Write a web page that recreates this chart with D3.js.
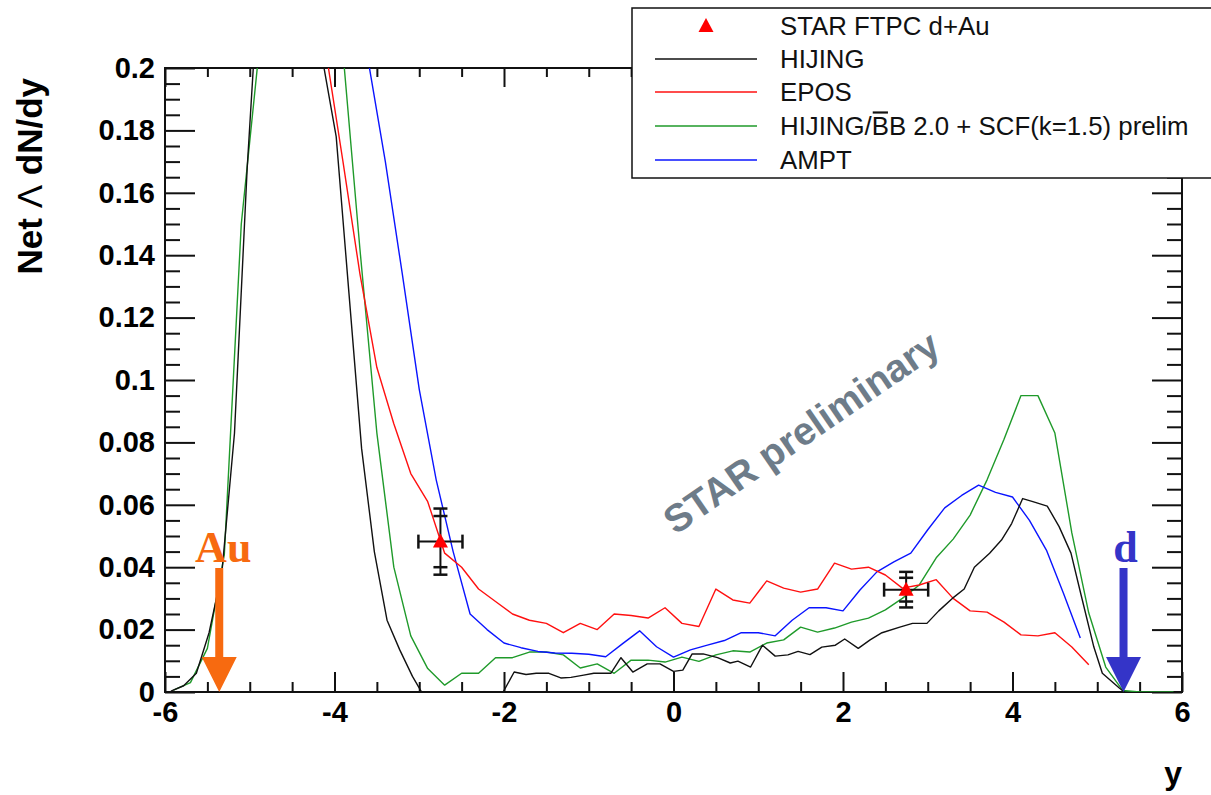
<!DOCTYPE html>
<html>
<head>
<meta charset="utf-8">
<script src="https://cdn.jsdelivr.net/npm/d3@7"></script>
<style>
  body { margin: 0; background: #fff; }
  svg { display: block; }
</style>
</head>
<body>
<svg id="chart" width="1211" height="795"></svg>
<script>
// ---------------- data ----------------
// Tick marks and labels
const xMajor = [-6, -4, -2, 0, 2, 4, 6];
const xMajorLabels = ["-6", "-4", "-2", "0", "2", "4", "6"];
const yMajor = [0, 0.02, 0.04, 0.06, 0.08, 0.1, 0.12, 0.14, 0.16, 0.18, 0.2];
const yMajorLabels = ["0", "0.02", "0.04", "0.06", "0.08", "0.1", "0.12", "0.14", "0.16", "0.18", "0.2"];

// HIJING (black)
const hijingY = [-5.93,-5.78,-5.63,-5.48,-5.33,-5.18,-5.03,-4.88,-4.73,-4.58,
  -4.43,-4.28,-4.13,-3.98,-3.83,-3.68,-3.53,-3.38,-3.23,-3.08,
  -2.93,-2.78,-2.63,-2.48,-2.33,-2.18,-2.03,-1.88,-1.74,-1.62,
  -1.47,-1.33,-1.21,-1.06,-0.94,-0.84,-0.74,-0.62,-0.48,-0.31,
  -0.16,0.0,0.11,0.22,0.35,0.52,0.67,0.76,0.91,1.05,
  1.2,1.35,1.47,1.61,1.75,1.91,2.02,2.18,2.32,2.46,
  2.67,2.82,2.99,3.13,3.29,3.43,3.55,3.73,3.87,3.99,
  4.12,4.24,4.41,4.55,4.69,4.81,4.96,5.06,5.26,5.32];
const hijingDN = [0.0003,0.002,0.006,0.019,0.038,0.083,0.168,0.235,0.29,0.32,
  0.31,0.26,0.201,0.178,0.128,0.078,0.045,0.023,0.0135,0.005,
  -0.002,-0.005,-0.005,-0.003,0.0,0.0,-0.001,0.0064,0.0056,0.006,
  0.006,0.0045,0.0047,0.0054,0.006,0.006,0.006,0.011,0.0064,0.009,
  0.009,0.0066,0.007,0.0122,0.0122,0.011,0.0093,0.0099,0.008,0.015,
  0.0115,0.0119,0.013,0.012,0.0144,0.015,0.017,0.014,0.0167,0.019,
  0.0208,0.022,0.022,0.026,0.030,0.033,0.040,0.0445,0.0487,0.054,
  0.062,0.061,0.0596,0.053,0.0445,0.031,0.0144,0.006,0.0013,0.0];

// EPOS (red)
const eposY = [-4.3,-4.1,-3.9,-3.7,-3.5,-3.3,-3.1,-2.9,-2.7,-2.5,
  -2.3,-2.1,-1.9,-1.7,-1.5,-1.3,-1.1,-0.9,-0.7,-0.5,
  -0.3,-0.1,0.1,0.3,0.5,0.7,0.9,1.1,1.3,1.5,
  1.7,1.9,2.1,2.3,2.5,2.7,2.9,3.1,3.3,3.5,
  3.7,3.9,4.1,4.3,4.5,4.7,4.9];
const eposDN = [0.26,0.205,0.170,0.134,0.104,0.086,0.070,0.061,0.0445,0.040,
  0.033,0.029,0.025,0.023,0.022,0.019,0.022,0.020,0.025,0.0245,
  0.0237,0.027,0.022,0.021,0.033,0.0295,0.0285,0.0356,0.0333,0.032,
  0.033,0.0413,0.0394,0.040,0.0375,0.0333,0.0343,0.036,0.030,0.026,
  0.0256,0.0224,0.0183,0.018,0.019,0.0144,0.0087];

// HIJING/B-Bbar 2.0 + SCF (green)
const hbbY = [-5.9,-5.7,-5.5,-5.3,-5.1,-4.9,-4.7,-4.5,-4.3,-4.1,
  -3.9,-3.7,-3.5,-3.3,-3.1,-2.9,-2.7,-2.5,-2.3,-2.1,
  -1.9,-1.7,-1.5,-1.3,-1.1,-0.9,-0.7,-0.5,-0.3,-0.1,
  0.1,0.3,0.5,0.7,0.9,1.1,1.3,1.5,1.7,1.9,
  2.1,2.3,2.5,2.7,2.9,3.1,3.3,3.5,3.7,3.9,
  4.1,4.3,4.5,4.7,4.9,5.1,5.3,5.5,5.7,5.9];
const hbbDN = [0.0006,0.003,0.014,0.044,0.150,0.203,0.26,0.29,0.29,0.26,
  0.205,0.142,0.083,0.040,0.018,0.0075,0.0022,0.006,0.006,0.011,
  0.011,0.0128,0.0128,0.0119,0.0077,0.009,0.006,0.0102,0.0102,0.0096,
  0.0112,0.0098,0.0119,0.0132,0.0128,0.0157,0.0167,0.0208,0.0192,0.0205,
  0.0224,0.0237,0.0263,0.030,0.0343,0.043,0.049,0.0567,0.068,0.081,
  0.095,0.095,0.083,0.051,0.0253,0.008,0.0005,0,0,0];

// AMPT (blue)
const amptY = [-3.8,-3.6,-3.4,-3.2,-3.0,-2.8,-2.6,-2.4,-2.2,-2.0,
  -1.8,-1.6,-1.4,-1.2,-1.0,-0.8,-0.6,-0.4,-0.2,0.0,
  0.2,0.4,0.6,0.8,1.0,1.2,1.4,1.6,1.8,2.0,
  2.2,2.4,2.6,2.8,3.0,3.2,3.4,3.6,3.8,4.0,
  4.2,4.4,4.6,4.8];
const amptDN = [0.235,0.202,0.170,0.134,0.097,0.068,0.045,0.025,0.020,0.0157,
  0.0142,0.0130,0.0125,0.0124,0.0121,0.0113,0.0155,0.0196,0.0145,0.0112,
  0.0135,0.015,0.0165,0.019,0.019,0.018,0.023,0.027,0.027,0.026,
  0.0327,0.0385,0.0417,0.0445,0.052,0.059,0.063,0.0663,0.064,0.0625,
  0.055,0.0455,0.0317,0.0173];

// STAR FTPC d+Au measurement
const starY = [-2.75, 2.745];
const starDN = [0.0482, 0.0328];
const starYerr = [0.26, 0.26];
const starStat = [0.0082, 0.0038];
const starSys = [0.0106, 0.0057];

// Beam rapidities
const beamY = [-5.36, 5.31];
const beamLabels = ["Au", "d"];
const beamColors = ["#f76a10", "#3434c8"];

const legendLabels = ["STAR FTPC d+Au", "HIJING", "EPOS", "HIJING/BB 2.0 + SCF(k=1.5) prelim", "AMPT"];

// ---------------- drawing ----------------
const svg = d3.select("#chart");
const L = 165, R = 1182, T = 68, B = 692;
const x = d3.scaleLinear().domain([-6, 6]).range([L, R]);
const y = d3.scaleLinear().domain([0, 0.2]).range([B, T]);

svg.append("rect").attr("width", 1211).attr("height", 795).attr("fill", "#fff");

svg.append("defs").append("clipPath").attr("id", "plotClip")
  .append("rect").attr("x", L).attr("y", T).attr("width", R - L).attr("height", B - T);

// watermark
svg.append("text")
  .attr("transform", "translate(801,432) rotate(-34.5)")
  .attr("text-anchor", "middle")
  .attr("dy", "0.36em")
  .attr("font-family", "Liberation Sans, Arial, sans-serif")
  .attr("font-weight", "bold")
  .attr("font-size", 39)
  .attr("fill", "#6e7c89")
  .text("STAR preliminary");

// axes
const xMinor = d3.range(-6, 6.001, 0.5).filter(v => Math.abs(v / 2 - Math.round(v / 2)) > 1e-6);
const yMinor = d3.range(0, 0.2001, 0.005).filter(v => Math.abs(v / 0.02 - Math.round(v / 0.02)) > 1e-6);

function styleAxis(g) {
  g.select(".domain").remove();
  g.selectAll("line").attr("stroke", "#111").attr("stroke-width", 2);
  g.selectAll("text").attr("fill", "#000")
    .attr("font-family", "Liberation Sans, Arial, sans-serif")
    .attr("font-weight", "bold").attr("font-size", 29);
}

// bottom
svg.append("g").attr("transform", `translate(0,${B})`)
  .call(d3.axisBottom(x).tickValues(xMinor).tickSizeInner(-10).tickSizeOuter(0).tickFormat(""))
  .call(styleAxis);
svg.append("g").attr("transform", `translate(0,${B})`)
  .call(d3.axisBottom(x).tickValues(xMajor).tickSizeInner(-20).tickSizeOuter(0).tickPadding(9)
    .tickFormat((d, i) => xMajorLabels[i]))
  .call(styleAxis);
// top
svg.append("g").attr("transform", `translate(0,${T})`)
  .call(d3.axisTop(x).tickValues(xMinor).tickSizeInner(-9).tickSizeOuter(0).tickFormat(""))
  .call(styleAxis);
svg.append("g").attr("transform", `translate(0,${T})`)
  .call(d3.axisTop(x).tickValues(xMajor).tickSizeInner(-19).tickSizeOuter(0).tickFormat(""))
  .call(styleAxis);
// left
svg.append("g").attr("transform", `translate(${L},0)`)
  .call(d3.axisLeft(y).tickValues(yMinor).tickSizeInner(-15).tickSizeOuter(0).tickFormat(""))
  .call(styleAxis);
svg.append("g").attr("transform", `translate(${L},0)`)
  .call(d3.axisLeft(y).tickValues(yMajor).tickSizeInner(-30).tickSizeOuter(0).tickPadding(10)
    .tickFormat((d, i) => yMajorLabels[i]))
  .call(styleAxis);
// right
svg.append("g").attr("transform", `translate(${R},0)`)
  .call(d3.axisRight(y).tickValues(yMinor).tickSizeInner(-15).tickSizeOuter(0).tickFormat(""))
  .call(styleAxis);
svg.append("g").attr("transform", `translate(${R},0)`)
  .call(d3.axisRight(y).tickValues(yMajor).tickSizeInner(-30).tickSizeOuter(0).tickFormat(""))
  .call(styleAxis);

// frame
svg.append("rect").attr("x", L).attr("y", T).attr("width", R - L).attr("height", B - T)
  .attr("fill", "none").attr("stroke", "#111").attr("stroke-width", 2);

// axis titles
svg.append("text")
  .attr("x", R).attr("y", 784).attr("text-anchor", "end")
  .attr("font-family", "Liberation Sans, Arial, sans-serif")
  .attr("font-weight", "bold").attr("font-size", 32).text("y");
const yTitle = svg.append("text")
  .attr("transform", "translate(42,78) rotate(-90)")
  .attr("text-anchor", "end")
  .attr("font-family", "Liberation Sans, Arial, sans-serif")
  .attr("font-weight", "bold").attr("font-size", 35);
yTitle.append("tspan").text("Net ");
yTitle.append("tspan").attr("font-weight", "normal").text("\u039B");
yTitle.append("tspan").text(" dN/dy");

// model curves
const line = d3.line().x(d => x(d[0])).y(d => y(d[1]));
const curves = [
  { xs: hbbY, vs: hbbDN, color: "#1f9a2a" },
  { xs: amptY, vs: amptDN, color: "#0a14ff" },
  { xs: eposY, vs: eposDN, color: "#ff1010" },
  { xs: hijingY, vs: hijingDN, color: "#111" }
];
const gCurves = svg.append("g").attr("clip-path", "url(#plotClip)");
curves.forEach(c => {
  gCurves.append("path")
    .datum(d3.zip(c.xs, c.vs))
    .attr("d", line)
    .attr("fill", "none")
    .attr("stroke", c.color)
    .attr("stroke-width", 1.4)
    .attr("stroke-linejoin", "round");
});

// data points with error bars
const gPts = svg.append("g");
starY.forEach((yy, i) => {
  const cx = x(yy), cy = y(starDN[i]);
  const ek = "#111";
  gPts.append("line").attr("x1", x(yy - starYerr[i])).attr("x2", x(yy + starYerr[i]))
    .attr("y1", cy).attr("y2", cy).attr("stroke", ek).attr("stroke-width", 2);
  [yy - starYerr[i], yy + starYerr[i]].forEach(e => {
    gPts.append("line").attr("x1", x(e)).attr("x2", x(e)).attr("y1", cy - 7).attr("y2", cy + 7)
      .attr("stroke", ek).attr("stroke-width", 2.5);
  });
  gPts.append("line").attr("x1", cx).attr("x2", cx)
    .attr("y1", y(starDN[i] + starSys[i])).attr("y2", y(starDN[i] - starSys[i]))
    .attr("stroke", ek).attr("stroke-width", 2);
  [starStat[i], starSys[i]].forEach(e => {
    [starDN[i] + e, starDN[i] - e].forEach(v => {
      gPts.append("line").attr("x1", cx - 7).attr("x2", cx + 7).attr("y1", y(v)).attr("y2", y(v))
        .attr("stroke", ek).attr("stroke-width", 2.5);
    });
  });
  gPts.append("path")
    .attr("d", `M${cx},${cy - 8}L${cx - 7.5},${cy + 6}L${cx + 7.5},${cy + 6}Z`)
    .attr("fill", "#ff0000");
});

// beam rapidity arrows
beamY.forEach((by, i) => {
  const tx = x(by), ty = y(0);
  svg.append("path")
    .attr("d", `M${tx},${ty}L${tx - 17.5},${ty - 35}L${tx - 4},${ty - 35}L${tx - 4},${ty - 124}` +
      `L${tx + 4},${ty - 124}L${tx + 4},${ty - 35}L${tx + 17.5},${ty - 35}Z`)
    .attr("fill", beamColors[i]);
  svg.append("text")
    .attr("x", tx + (i === 0 ? 4 : 2)).attr("y", ty - 130)
    .attr("text-anchor", "middle")
    .attr("font-family", "Liberation Serif, Times New Roman, serif")
    .attr("font-weight", "bold").attr("font-size", 44)
    .attr("fill", beamColors[i]).text(beamLabels[i]);
});

// legend
const lg = svg.append("g");
lg.append("rect").attr("x", 632).attr("y", 8).attr("width", 640).attr("height", 170)
  .attr("fill", "#fff").attr("stroke", "#111").attr("stroke-width", 1.5);
const rowsY = [26, 59, 92, 126, 160];
const rowColors = [null, "#111", "#ff1010", "#1f9a2a", "#0a14ff"];
lg.append("path")
  .attr("d", `M706,${rowsY[0] - 8}L698.5,${rowsY[0] + 6}L713.5,${rowsY[0] + 6}Z`)
  .attr("fill", "#ff0000");
rowsY.forEach((ry, i) => {
  if (i > 0) {
    lg.append("line").attr("x1", 655).attr("x2", 757).attr("y1", ry).attr("y2", ry)
      .attr("stroke", rowColors[i]).attr("stroke-width", 1.4);
  }
  const t = lg.append("text")
    .attr("x", 780).attr("y", ry + 8.5)
    .attr("font-family", "Liberation Sans, Arial, sans-serif")
    .attr("font-size", 25.8).attr("fill", "#111")
    .text(legendLabels[i]);
  if (i === 3) {
    // bar over the first B of "BB"
    const node = t.node();
    const k = legendLabels[i].indexOf("BB");
    const x0 = 780 + node.getSubStringLength(0, k);
    const w = node.getSubStringLength(k, 1);
    lg.append("line").attr("x1", x0 + 1).attr("x2", x0 + w - 1)
      .attr("y1", ry - 13.5).attr("y2", ry - 13.5)
      .attr("stroke", "#111").attr("stroke-width", 2.2);
  }
});
</script>
</body>
</html>
